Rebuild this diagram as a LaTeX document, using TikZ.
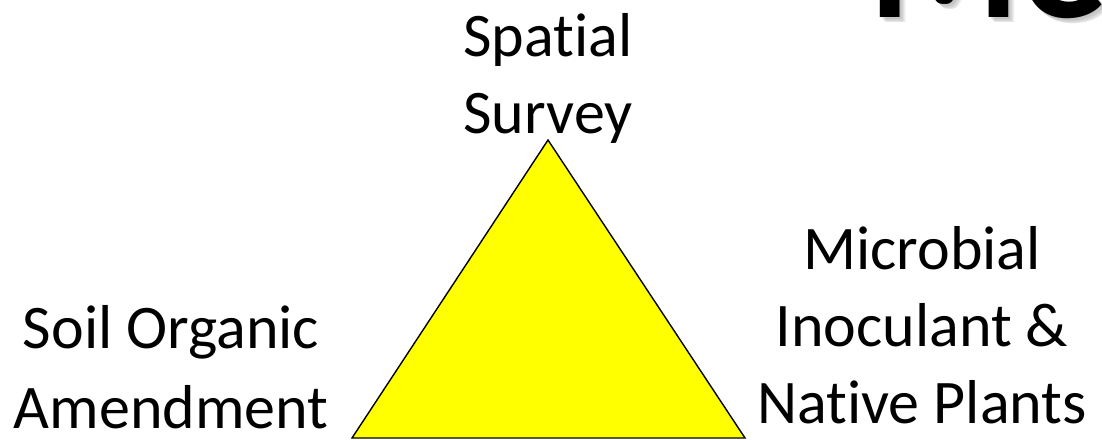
\documentclass[tikz,border=0pt]{standalone}
\usepackage{fontspec}
\setmainfont{Carlito}[RawFeature={-liga;-clig;-calt}]
\newcommand{\nolig}{\kern0pt }
\begin{document}
\begin{tikzpicture}[x=1pt,y=-1pt,
  label/.style={inner sep=0pt, outer sep=0pt, align=center, anchor=base, font=\fontsize{62}{77}\selectfont},
  title/.style={inner sep=0pt, outer sep=0pt, anchor=base west, font=\fontsize{174}{200}\selectfont\bfseries},
  tri/.style={draw=black, line width=1.4pt, fill={rgb,255:red,255;green,255;blue,0}, line join=miter}]
\useasboundingbox (0,0) rectangle (1102,439);
\clip (0,0) rectangle (1102,439);
% title with soft shadow
\foreach \d in {2,3,4,5,6}{
  \node[title, text=black!60, opacity=0.09] at (868+\d,17+\d) {Me};
}
\node[title, text=black] (ttl) at (868,17) {Me};
% triangle
\coordinate (apex) at (548,140);
\coordinate (br) at (745,438);
\coordinate (bl) at (352,438);
\draw[tri] (apex) -- (br) -- (bl) -- cycle;
% labels
\node[label] (top) at (548,133) {Spat\nolig ial\\Survey};
\node[label, font=\fontsize{62}{80}\selectfont] (left) at (171,428) {Soil Organic\\Amendment};
\node[label] (right) at (922,423) {Microbial\\Inoculant \&\\Nat\nolig ive Plants};
\end{tikzpicture}
\end{document}
